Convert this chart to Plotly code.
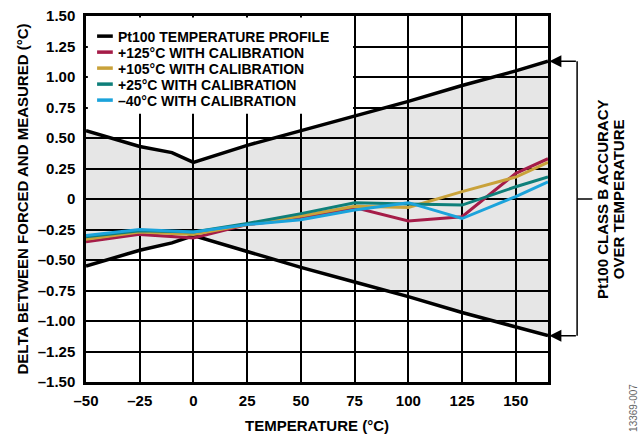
import plotly.graph_objects as go

# Pt100 class B profile (upper and lower bounds)
prof_x = [-50, -25, -10, 0, 25, 50, 75, 100, 125, 150, 165]
prof_upper = [0.56, 0.43, 0.38, 0.30, 0.44, 0.56, 0.68, 0.80, 0.93, 1.05, 1.13]
prof_lower = [-0.55, -0.42, -0.36, -0.30, -0.43, -0.56, -0.68, -0.80, -0.93, -1.05, -1.12]

temps = [-50, -25, 0, 25, 50, 75, 100, 125, 150, 165]
cal_125 = [-0.35, -0.29, -0.32, -0.21, -0.16, -0.07, -0.18, -0.145, 0.21, 0.33]
cal_105 = [-0.33, -0.27, -0.29, -0.21, -0.14, -0.06, -0.07, 0.06, 0.18, 0.30]
cal_25 = [-0.31, -0.26, -0.27, -0.20, -0.12, -0.03, -0.04, -0.05, 0.10, 0.18]
cal_m40 = [-0.30, -0.25, -0.27, -0.21, -0.17, -0.09, -0.03, -0.16, 0.02, 0.14]

profile_name = "Pt100 TEMPERATURE PROFILE"
series_names = ["+125°C WITH CALIBRATION", "+105°C WITH CALIBRATION",
                "+25°C WITH CALIBRATION", "–40°C WITH CALIBRATION"]
series_vals = [cal_125, cal_105, cal_25, cal_m40]
series_colors = ["#A51C48", "#C9A23A", "#0E7F7A", "#1BA3DB"]

x_ticks = [-50, -25, 0, 25, 50, 75, 100, 125, 150]
x_ticktext = ["–50", "–25", "0", "25", "50", "75", "100", "125", "150"]
y_ticks = [1.5, 1.25, 1.0, 0.75, 0.5, 0.25, 0, -0.25, -0.5, -0.75, -1.0, -1.25, -1.5]
y_ticktext = ["1.50", "1.25", "1.00", "0.75", "0.50", "0.25", "0",
              "–0.25", "–0.50", "–0.75", "–1.00", "–1.25", "–1.50"]

FONT = "Liberation Sans, Arial, sans-serif"
FS = 15
LEG_FS = 14

fig = go.Figure()

# gray band between the profiles, as a shape below the grid
pts = [f"{x},{y}" for x, y in zip(prof_x, prof_upper)] + \
      [f"{x},{y}" for x, y in zip(reversed(prof_x), reversed(prof_lower))]
band_path = "M " + " L ".join(pts) + " Z"
fig.add_shape(type="path", path=band_path, xref="x", yref="y",
              fillcolor="#E6E6E6", line=dict(width=0), layer="below")

fig.add_trace(go.Scatter(
    x=prof_x + [None] + prof_x, y=prof_upper + [None] + prof_lower,
    mode="lines", line=dict(color="black", width=3.5),
    name=profile_name, connectgaps=False, showlegend=False))

for name, vals, col in zip(series_names, series_vals, series_colors):
    fig.add_trace(go.Scatter(x=temps, y=vals, mode="lines",
                             line=dict(color=col, width=3), name=name,
                             showlegend=False))

# legend box (white background over the grid) with line samples and labels
fig.add_shape(type="rect", xref="paper", yref="paper", x0=0.004, x1=0.578,
              y0=0.733, y1=0.996, fillcolor="white", line=dict(width=0), layer="above")
leg_names = [profile_name] + series_names
leg_colors = ["black"] + series_colors
leg_widths = [3.5, 3.5, 3.5, 3.5, 3.5]
row0, drow = 0.945, 0.0437
for i, (nm, col, w) in enumerate(zip(leg_names, leg_colors, leg_widths)):
    yy = row0 - i * drow
    fig.add_shape(type="line", xref="paper", yref="paper", x0=0.024, x1=0.058,
                  y0=yy, y1=yy, line=dict(color=col, width=w), layer="above")
    fig.add_annotation(xref="paper", yref="paper", x=0.068, y=yy, text=nm,
                       xanchor="left", yanchor="middle", showarrow=False,
                       height=15, borderpad=0,
                       font=dict(family=FONT, size=LEG_FS, color="black", weight="bold"))

# bracket on the right
bx = 1.063
fig.add_shape(type="line", xref="paper", yref="y", x0=bx, x1=bx,
              y0=prof_lower[-1], y1=prof_upper[-1], line=dict(color="black", width=1.5))
fig.add_shape(type="line", xref="paper", yref="y", x0=bx, x1=1.096,
              y0=0, y1=0, line=dict(color="black", width=1.5))
for yv in [prof_upper[-1], prof_lower[-1]]:
    fig.add_annotation(xref="paper", yref="y", x=1.003, y=yv, ax=28, ay=0,
                       axref="pixel", ayref="pixel", text="", showarrow=True,
                       arrowhead=2, arrowsize=1.6, arrowwidth=1.5, arrowcolor="black",
                       standoff=0)

fig.add_annotation(xref="paper", yref="y", x=1.119, y=0,
                   text="Pt100 CLASS B ACCURACY", xanchor="center", yanchor="middle",
                   textangle=-90, showarrow=False, height=14, borderpad=0,
                   font=dict(family=FONT, size=FS, color="black", weight="bold"))
fig.add_annotation(xref="paper", yref="y", x=1.152, y=0,
                   text="OVER TEMPERATURE", xanchor="center", yanchor="middle",
                   textangle=-90, showarrow=False, height=14, borderpad=0,
                   font=dict(family=FONT, size=FS, color="black", weight="bold"))
fig.add_annotation(xref="paper", yref="paper", x=1.186, y=-0.071,
                   text="13369-007", textangle=-90, showarrow=False,
                   xanchor="center", yanchor="middle",
                   font=dict(family=FONT, size=10, color="#666666"))

fig.update_layout(
    width=642, height=434,
    margin=dict(l=86, r=94, t=16, b=52, autoexpand=False),
    plot_bgcolor="white", paper_bgcolor="white",
    font=dict(family=FONT, size=FS, color="black"),
    showlegend=False,
    xaxis=dict(range=[-50, 165], tickvals=x_ticks, ticktext=x_ticktext,
               showgrid=True, gridcolor="black", gridwidth=1.5,
               showline=True, linecolor="black", linewidth=2.5, mirror=True,
               zeroline=False, ticks="", ticklabelstandoff=3, automargin=False,
               tickfont=dict(family=FONT, size=FS, weight="bold"),
               title=dict(text="TEMPERATURE (°C)", standoff=19,
                          font=dict(family=FONT, size=FS, weight="bold"))),
    yaxis=dict(range=[-1.5, 1.5], tickvals=y_ticks, ticktext=y_ticktext,
               showgrid=True, gridcolor="black", gridwidth=1.5,
               showline=True, linecolor="black", linewidth=2.5, mirror=True,
               zeroline=False, ticks="", ticklabelstandoff=5, automargin=False,
               tickfont=dict(family=FONT, size=FS, weight="bold"),
               title=dict(text="DELTA BETWEEN FORCED AND MEASURED (°C)", standoff=6,
                          font=dict(family=FONT, size=FS, weight="bold"))),
)

fig.write_html("out.html")
